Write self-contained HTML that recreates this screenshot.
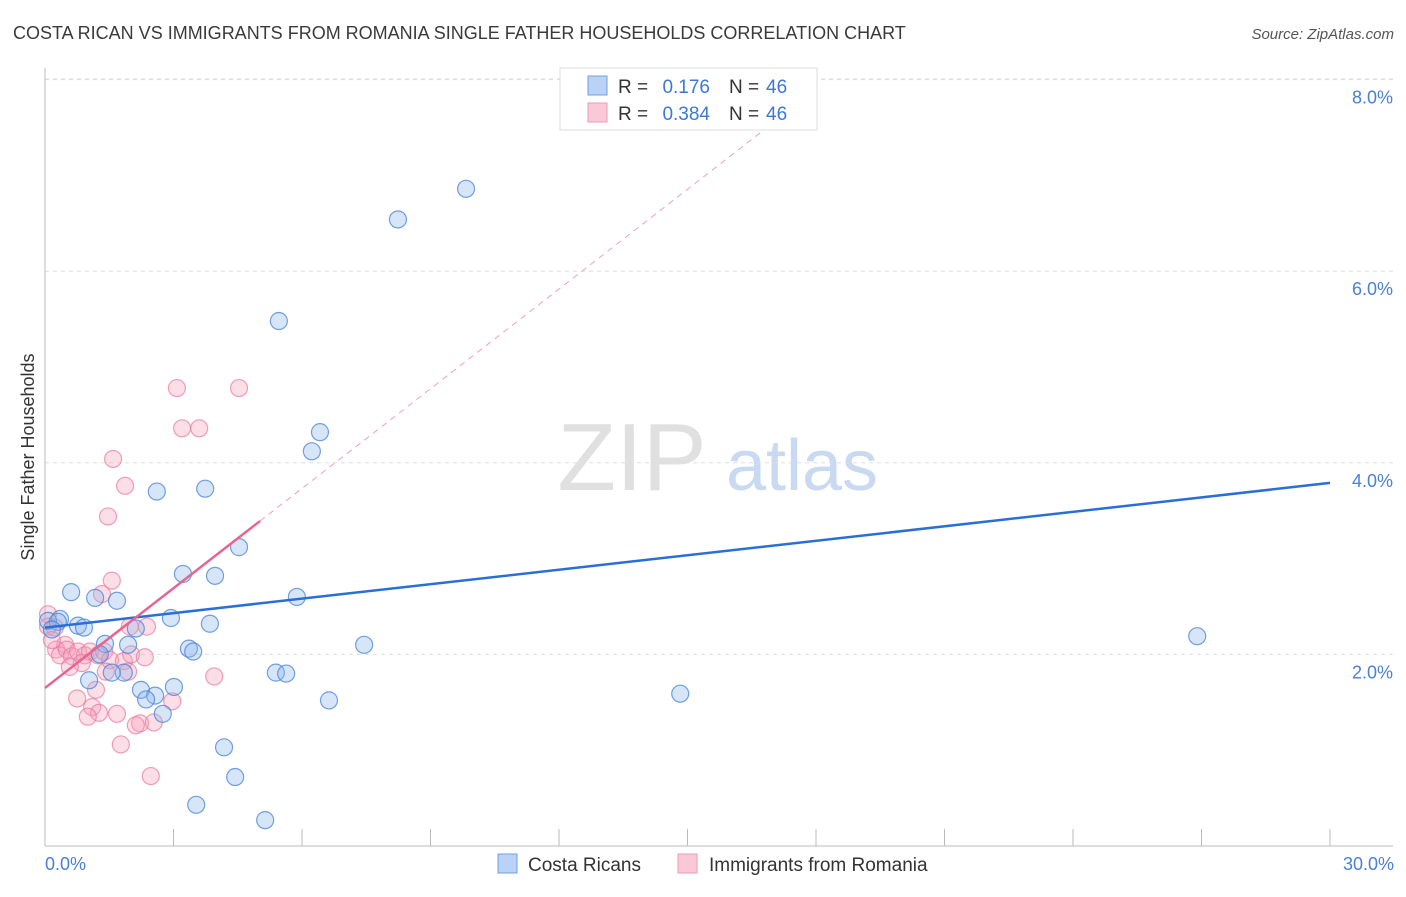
<!DOCTYPE html>
<html><head><meta charset="utf-8"><style>
body{margin:0;background:#fff;font-family:"Liberation Sans",sans-serif;}
svg text{font-family:"Liberation Sans",sans-serif;}
</style></head><body>
<svg id="chart" width="1406" height="892" xmlns="http://www.w3.org/2000/svg">
<text x="13" y="39" font-size="18" fill="#3a3a3a">COSTA RICAN VS IMMIGRANTS FROM ROMANIA SINGLE FATHER HOUSEHOLDS CORRELATION CHART</text>
<text x="1394" y="39" font-size="15" fill="#555" font-style="italic" text-anchor="end">Source: ZipAtlas.com</text>
<g>
<text x="632" y="490" font-size="96" fill="#e0e0e0" font-family="Liberation Serif" text-anchor="middle">ZIP</text>
<text x="802" y="490" font-size="72" fill="#c9d9f2" text-anchor="middle">atlas</text>
</g>
<g id="grid"></g>
<g id="axes"></g>
<g id="pts"></g>
<g id="trends"></g>
<text transform="translate(34,457) rotate(-90)" font-size="18" fill="#333" text-anchor="middle">Single Father Households</text>
<text x="45" y="870" font-size="18" fill="#4a7fd6">0.0%</text>
<text x="1394" y="870" font-size="18" fill="#4a7fd6" text-anchor="end">30.0%</text>
<g>
<rect x="560" y="68" width="257" height="62" fill="#fff" stroke="#ddd"/>
<rect x="588" y="76" width="19" height="19" fill="#b9d2f5" stroke="#6f9fe0"/>
<rect x="588" y="103" width="19" height="19" fill="#f9c9d7" stroke="#ee9ab4"/>
<text x="618" y="93" font-size="19" fill="#333">R =</text>
<text x="710" y="93" font-size="19" fill="#3b78d8" text-anchor="end">0.176</text>
<text x="729" y="93" font-size="19" fill="#333">N =</text>
<text x="766" y="93" font-size="19" fill="#3b78d8">46</text>
<text x="618" y="120" font-size="19" fill="#333">R =</text>
<text x="710" y="120" font-size="19" fill="#3b78d8" text-anchor="end">0.384</text>
<text x="729" y="120" font-size="19" fill="#333">N =</text>
<text x="766" y="120" font-size="19" fill="#3b78d8">46</text>
</g>
<g>
<rect x="498" y="854" width="19" height="19" fill="#b9d2f5" stroke="#6f9fe0"/>
<text x="528" y="871" font-size="19" fill="#333">Costa Ricans</text>
<rect x="678" y="854" width="19" height="19" fill="#f9c9d7" stroke="#ee9ab4"/>
<text x="709" y="871" font-size="19" fill="#333">Immigrants from Romania</text>
</g>
</svg>
<script>
const blueX=[9.83,8.24,5.46,6.42,6.23,2.61,3.74,4.53,3.22,3.97,0.61,1.17,1.68,5.88,2.94,0.35,0.07,0.77,0.91,2.12,3.85,1.40,1.94,3.36,3.46,1.28,7.45,26.9,5.39,5.63,1.03,1.84,1.56,2.24,2.57,2.36,3.01,6.63,14.83,2.75,4.18,4.44,3.53,5.14,0.30,0.16];
const blueY=[6.86,6.54,5.48,4.32,4.12,3.70,3.73,3.12,2.84,2.82,2.65,2.59,2.56,2.60,2.38,2.37,2.35,2.30,2.28,2.27,2.32,2.11,2.10,2.06,2.03,2.00,2.10,2.19,1.81,1.80,1.73,1.81,1.81,1.63,1.57,1.53,1.66,1.52,1.59,1.38,1.03,0.72,0.43,0.27,2.34,2.26];
const pinkX=[3.08,4.53,3.20,3.60,1.59,1.87,1.47,1.56,1.33,0.07,0.23,1.98,2.38,0.47,0.26,0.35,0.51,0.63,0.77,0.93,1.05,1.24,1.38,1.52,1.84,2.01,2.33,0.86,0.58,1.94,1.42,3.95,1.19,0.75,2.97,1.10,1.26,1.00,1.68,2.22,2.12,2.54,1.77,2.47,0.07,0.16];
const pinkY=[4.78,4.78,4.36,4.36,4.04,3.76,3.44,2.77,2.63,2.42,2.28,2.29,2.29,2.10,2.05,1.99,2.05,1.98,2.03,1.99,2.03,1.99,2.03,1.94,1.93,2.00,1.97,1.91,1.87,1.82,1.82,1.77,1.63,1.54,1.51,1.45,1.39,1.35,1.38,1.28,1.26,1.29,1.06,0.73,2.29,2.15];
const yTicks=[2,4,6,8];
const xTicks=[0,3,6,9,12,15,18,21,24,27,30];
const blueTrend=[2.28,3.79];
const pinkTrend=[1.65,0.347];
const sx=v=>45+v*(1285/30);
const sy=v=>846-v*95.8;
const NS="http://www.w3.org/2000/svg";
function mk(p,t,a){const e=document.createElementNS(NS,t);for(const k in a)e.setAttribute(k,a[k]);p.appendChild(e);return e;}
const grid=document.getElementById('grid'),axes=document.getElementById('axes'),pts=document.getElementById('pts'),tr=document.getElementById('trends');
yTicks.forEach(t=>{
 const l=mk(grid,'line',{x1:45,x2:1393,y1:sy(t),y2:sy(t),stroke:'#ddd','stroke-dasharray':'4,4'});
 
 
 const tx=mk(grid,'text',{x:1393,y:sy(t)+24,'font-size':18,fill:'#4a7fd6','text-anchor':'end'});
 tx.textContent=t.toFixed(1)+'%';
 
 
});
const tl=mk(grid,'line',{x1:45,x2:1393,y1:79,y2:79,stroke:'#ddd','stroke-dasharray':'4,4'});


const ax=mk(axes,'line',{x1:45,x2:45,y1:68,y2:846,stroke:'#bbb'});


const bx=mk(axes,'line',{x1:45,x2:1393,y1:846,y2:846,stroke:'#bbb'});


xTicks.forEach(t=>{
 const l=mk(axes,'line',{x1:sx(t),x2:sx(t),y1:829,y2:846,stroke:'#bbb'});
 
 
});
pinkX.forEach((x,i)=>{
 const c=mk(pts,'circle',{cx:sx(x),cy:sy(pinkY[i]),r:8.5,fill:'rgba(245,160,185,0.35)',stroke:'rgba(235,120,155,0.7)','stroke-width':1.2});
 
 
});
blueX.forEach((x,i)=>{
 const c=mk(pts,'circle',{cx:sx(x),cy:sy(blueY[i]),r:8.5,fill:'rgba(140,180,235,0.35)',stroke:'rgba(70,130,215,0.75)','stroke-width':1.2});
 
 
});
const bl=mk(tr,'line',{x1:sx(0),y1:sy(blueTrend[0]),x2:sx(30),y2:sy(blueTrend[1]),stroke:'#2a6fd6','stroke-width':2.5});


const pl=mk(tr,'line',{x1:sx(0),y1:sy(pinkTrend[0]),x2:sx(5.02),y2:sy(pinkTrend[0]+pinkTrend[1]*5.02),stroke:'#e8648e','stroke-width':2.5});


const pd=mk(tr,'line',{x1:sx(5.02),y1:sy(pinkTrend[0]+pinkTrend[1]*5.02),x2:sx(17.0),y2:sy(pinkTrend[0]+pinkTrend[1]*17.0),stroke:'#f0a0b8','stroke-width':1,'stroke-dasharray':'6,5'});


</script>
</body></html>
